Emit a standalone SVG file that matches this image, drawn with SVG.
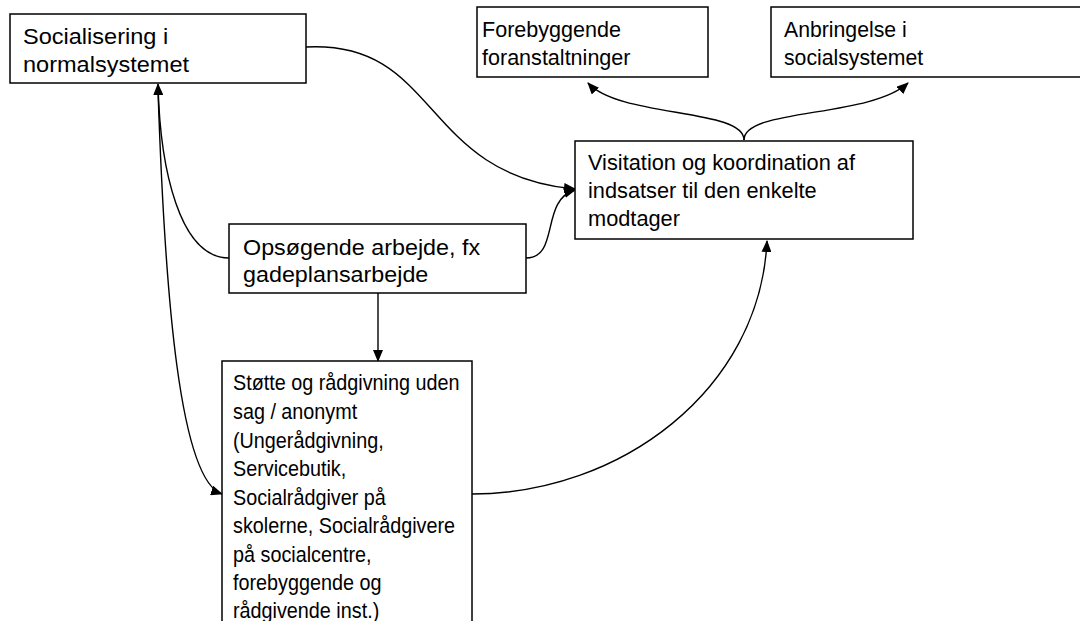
<svg xmlns="http://www.w3.org/2000/svg" width="1080" height="621" viewBox="0 0 1080 621">
<style>
.box{fill:#fff;stroke:#000;stroke-width:1.5}
.t{font-family:"Liberation Sans",Arial,sans-serif;font-size:22px;fill:#000}
.c{fill:none;stroke:#000;stroke-width:1.4}
</style>
<defs>
<marker id="ah" markerUnits="userSpaceOnUse" markerWidth="12" markerHeight="10" refX="11" refY="5" orient="auto">
<path d="M0,0 L12,5 L0,10 Z" fill="#000"/>
</marker>
</defs>
<rect width="1080" height="621" fill="#fff"/>
<g id="connectors">
<path class="c" d="M306,47 C440,40 420,175 575,189" marker-end="url(#ah)"/>
<path class="c" d="M526,258 C560,258 540,200 575,190" marker-end="url(#ah)"/>
<path class="c" d="M744,140 C744,108 620,118 588,83" marker-end="url(#ah)"/>
<path class="c" d="M744,140 C744,108 870,118 908,83" marker-end="url(#ah)"/>
<path class="c" d="M472,494 C620,494 760,390 767,241" marker-end="url(#ah)"/>
<path class="c" d="M378,293 L378,361" marker-end="url(#ah)"/>
<path class="c" d="M229,258 C180,258 160,170 158,84" marker-end="url(#ah)"/>
<path class="c" d="M158,90 C165,300 180,480 222,494" marker-end="url(#ah)"/>
</g>
<g id="n1">
<rect class="box" x="10" y="14" width="296" height="69"/>
<g transform="translate(23,0) scale(1.07,1)">
<text class="t" x="0" y="44">Socialisering i</text>
<text class="t" x="0" y="72">normalsystemet</text>
</g>
</g>
<g id="n2">
<rect class="box" x="477" y="7" width="231" height="70"/>
<g transform="translate(482,0) scale(0.98,1)">
<text class="t" x="0" y="37">Forebyggende</text>
<text class="t" x="0" y="65">foranstaltninger</text>
</g>
</g>
<g id="n3">
<rect class="box" x="771" y="7" width="330" height="70"/>
<g transform="translate(784,0) scale(0.965,1)">
<text class="t" x="0" y="37">Anbringelse i</text>
<text class="t" x="0" y="65">socialsystemet</text>
</g>
</g>
<g id="n4">
<rect class="box" x="575" y="141" width="338" height="98"/>
<g transform="translate(588,0) scale(0.99,1)">
<text class="t" x="0" y="170">Visitation og koordination af</text>
<text class="t" x="0" y="198">indsatser til den enkelte</text>
<text class="t" x="0" y="226">modtager</text>
</g>
</g>
<g id="n5">
<rect class="box" x="229" y="224" width="297" height="69"/>
<g transform="translate(243,0) scale(1.06,1)">
<text class="t" x="0" y="255">Opsøgende arbejde, fx</text>
<text class="t" x="0" y="282">gadeplansarbejde</text>
</g>
</g>
<g id="n6">
<rect class="box" x="222" y="361" width="250" height="280"/>
<g transform="translate(233,0) scale(0.9,1)">
<text class="t" x="0" y="390">Støtte og rådgivning uden</text>
<text class="t" x="0" y="419">sag / anonymt</text>
<text class="t" x="0" y="448">(Ungerådgivning,</text>
<text class="t" x="0" y="476">Servicebutik,</text>
<text class="t" x="0" y="505">Socialrådgiver på</text>
<text class="t" x="0" y="533">skolerne, Socialrådgivere</text>
<text class="t" x="0" y="562">på socialcentre,</text>
<text class="t" x="0" y="590">forebyggende og</text>
<text class="t" x="0" y="618">rådgivende inst.)</text>
</g>
</g>
</svg>
